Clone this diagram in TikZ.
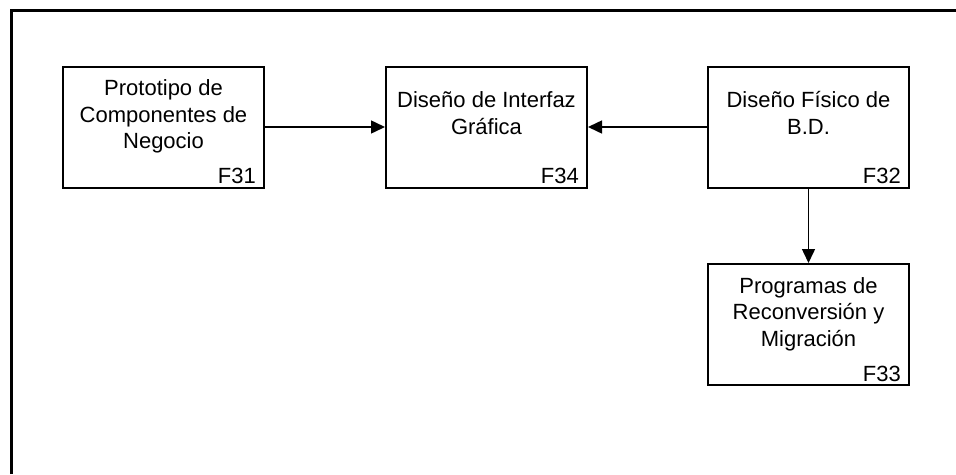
\documentclass[tikz,border=0pt]{standalone}
\usepackage{fontspec}
\setmainfont{Liberation Sans}
\usetikzlibrary{arrows.meta}
\tikzset{
  task/.style={draw, line width=2pt, minimum width=201pt, minimum height=121pt, inner sep=0pt},
  tasktext/.style={align=center, font=\fontsize{22}{26.5}\selectfont, inner sep=0pt, anchor=north},
  taskid/.style={font=\fontsize{22}{26}\selectfont, inner sep=0pt, anchor=base east},
  flow/.style={line width=1.5pt, -{Triangle[length=14pt, width=13pt]}},
}
\begin{document}
\begin{tikzpicture}[x=1pt, y=-1pt]
  \useasboundingbox (0,0) rectangle (956,474);
  % page frame (top and left edges)
  \draw[line width=3pt] (11.5,474) -- (11.5,10.5) -- (956,10.5);

  % task boxes
  \node[task] (f31) at (163.5,127) {};
  \node[task] (f34) at (486.5,127) {};
  \node[task] (f32) at (808.5,127) {};
  \node[task] (f33) at (808.5,324.5) {};

  % task titles
  \node[tasktext] (f31t) at ([yshift=-14pt]f31.north) {Prototipo de\\Componentes de\\Negocio};
  \node[tasktext] (f34t) at ([yshift=-26pt]f34.north) {Diseño de Interfaz\\Gráfica};
  \node[tasktext] (f32t) at ([yshift=-26pt]f32.north) {Diseño Físico de\\B.D.};
  \node[tasktext] (f33t) at ([yshift=-14pt]f33.north) {Programas de\\Reconversión y\\Migración};

  % task identifiers
  \node[taskid] (f31id) at ([xshift=-9pt, yshift=5pt]f31.south east) {F31};
  \node[taskid] (f34id) at ([xshift=-9pt, yshift=5pt]f34.south east) {F34};
  \node[taskid] (f32id) at ([xshift=-9pt, yshift=5pt]f32.south east) {F32};
  \node[taskid] (f33id) at ([xshift=-9pt, yshift=5pt]f33.south east) {F33};

  % dependencies
  \draw[flow] (f31.east) -- (f34.west);
  \draw[flow] (f32.west) -- (f34.east);
  \draw[flow] (f32.south) -- (f33.north);
\end{tikzpicture}
\end{document}
